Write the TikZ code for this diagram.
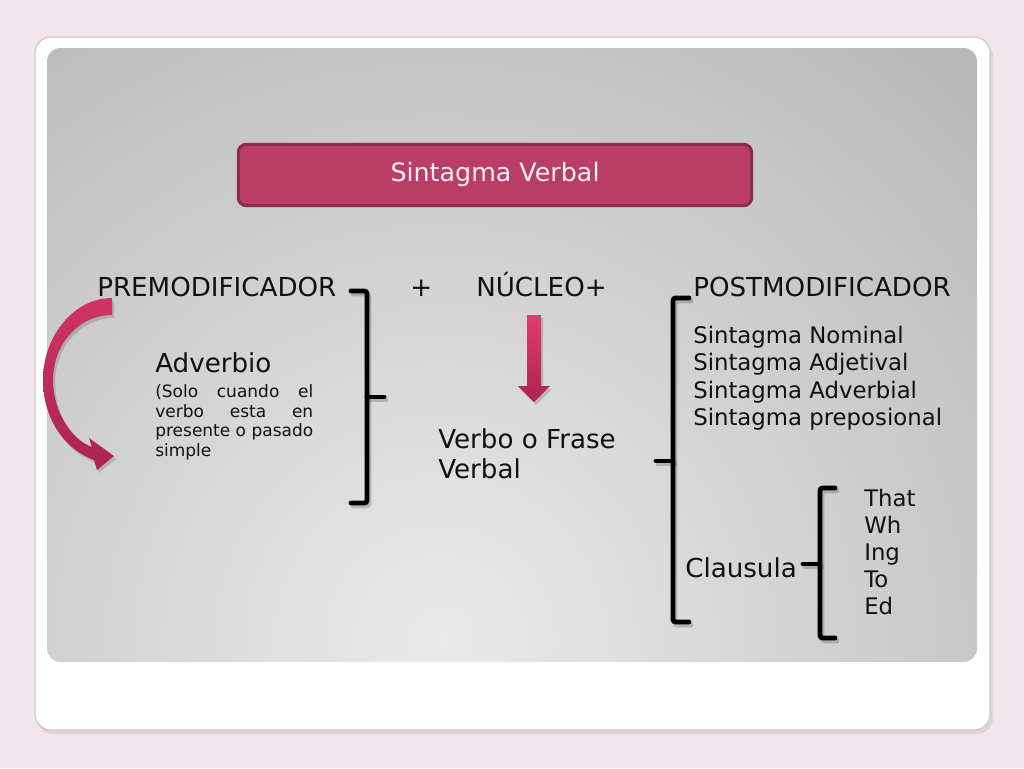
\documentclass[tikz,border=0pt]{standalone}
\usepackage{fontspec}
\setmainfont{DejaVu Sans}
\definecolor{pagebg}{HTML}{F3E5EC}
\definecolor{panelLight}{HTML}{EAEAEA}
\definecolor{panelDark}{HTML}{A6A6A6}
\definecolor{titleFill}{HTML}{BA3D66}
\definecolor{titleEdge}{HTML}{8E2A4C}
\definecolor{titleText}{HTML}{FBEFF3}
\definecolor{arrTop}{HTML}{E63A6D}
\definecolor{arrBot}{HTML}{AC2350}
\definecolor{ink}{HTML}{111111}
\begin{document}
\begin{tikzpicture}[x=0.75pt,y=-0.75pt,
  bigtxt/.style={font=\fontsize{19.6}{23}\selectfont, text=ink, inner sep=0pt, anchor=base west},
  midtxt/.style={font=\fontsize{17.1}{20}\selectfont, text=ink, inner sep=0pt, anchor=base west},
  smalltxt/.style={font=\fontsize{12.75}{15}\selectfont, text=ink, inner sep=0pt, anchor=base west},
  brk/.style={line width=3.6pt, draw=black, rounded corners=2pt, line cap=round},
  brkshadow/.style={line width=3.6pt, draw=black, opacity=0.18, rounded corners=2pt, line cap=round},
  arrshadow/.style={fill=black, opacity=0.15}]
\useasboundingbox (0,0) rectangle (1024,768);
\fill[pagebg] (0,0) rectangle (1024,768);
% card
\fill[black!30, opacity=0.35, rounded corners=12pt] (37,41) rectangle (993,734);
\fill[white, draw=black!22, line width=0.8pt, rounded corners=12pt] (35,37) rectangle (990,730);
% panel
\begin{scope}
  \clip[rounded corners=10pt] (47,48) rectangle (977,662);
  \shade[inner color=panelLight, outer color=panelDark] (440,640) circle (800pt);
\end{scope}
% title
\node[draw=titleEdge, line width=2.3pt, fill=titleFill, rounded corners=6pt,
      minimum width=385pt, minimum height=46pt, inner sep=0pt,
      text=titleText, font=\fontsize{19}{23}\selectfont] (title) at (495,175) {Sintagma Verbal};
% headings
\node[bigtxt] (pre) at (97,296) {PREMODIFICADOR};
\node[bigtxt] (plus) at (410,296) {+};
\node[bigtxt] (nuc) at (476,296) {NÚCLEO+};
\node[bigtxt] (post) at (693,296) {POSTMODIFICADOR};
% left block
\node[bigtxt] (adv) at (155,372) {Adverbio};
\node[smalltxt] (s1) at (155,397) {\makebox[118.5pt][s]{(Solo\hfill cuando\hfill el}};
\node[smalltxt] (s2) at (155,417) {\makebox[118.5pt][s]{verbo\hfill esta\hfill en}};
\node[smalltxt] (s3) at (155,436) {\makebox[118.5pt][s]{presente\hfill o\hfill pasado}};
\node[smalltxt] (s4) at (155,456) {simple};
% centre
\node[bigtxt] (v1) at (438,448) {Verbo o Frase};
\node[bigtxt] (v2) at (438,478) {Verbal};
% right block
\node[midtxt] (sn1) at (693,343) {Sintagma Nominal};
\node[midtxt] (sn2) at (693,370) {Sintagma Adjetival};
\node[midtxt] (sn3) at (693,398) {Sintagma Adverbial};
\node[midtxt] (sn4) at (693,425) {Sintagma preposional};
\node[bigtxt] (cla) at (685,577) {Clausula};
\node[midtxt] (c1) at (864,506) {That};
\node[midtxt] (c2) at (864,533) {Wh};
\node[midtxt] (c3) at (864,560) {Ing};
\node[midtxt] (c4) at (864,587) {To};
\node[midtxt] (c5) at (864,614) {Ed};
% brackets (shadows)
\begin{scope}[shift={(2,3)}]
  \draw[brkshadow] (351,291) -- (367,291) -- (367,503) -- (351,503);
  \draw[brkshadow] (367,397) -- (384,397);
  \draw[brkshadow] (689,298) -- (673,298) -- (673,622) -- (689,622);
  \draw[brkshadow] (656,461) -- (673,461);
  \draw[brkshadow] (835,488) -- (820,488) -- (820,638) -- (835,638);
  \draw[brkshadow] (803,564) -- (820,564);
\end{scope}
% brackets
\draw[brk] (351,291) -- (367,291) -- (367,503) -- (351,503);
\draw[brk] (367,397) -- (384,397);
\draw[brk] (689,298) -- (673,298) -- (673,622) -- (689,622);
\draw[brk] (656,461) -- (673,461);
\draw[brk] (835,488) -- (820,488) -- (820,638) -- (835,638);
\draw[brk] (803,564) -- (820,564);
% down arrow
\fill[arrshadow] (529,318) -- (543,318) -- (543,389) -- (552,389) -- (536,405) -- (520,389) -- (529,389) -- cycle;
\shade[top color=arrTop, bottom color=arrBot] (527,315) -- (541,315) -- (541,386) -- (550,386) -- (534,402) -- (518,386) -- (527,386) -- cycle;
% curved arrow
\begin{scope}[shift={(2,3)}]
\fill[arrshadow] (112,298) .. controls (74,298) and (43,336) .. (43,380)
  .. controls (43,420) and (66,450) .. (94,460) -- (97,470) -- (114,456) -- (89,438) -- (92,447)
  .. controls (72,440) and (53,412) .. (53,380)
  .. controls (53,344) and (79,315) .. (112,315) -- cycle;
\end{scope}
\shade[top color=arrTop!90!black, bottom color=arrBot] (112,298) .. controls (74,298) and (43,336) .. (43,380)
  .. controls (43,420) and (66,450) .. (94,460) -- (97,470) -- (114,456) -- (89,438) -- (92,447)
  .. controls (72,440) and (53,412) .. (53,380)
  .. controls (53,344) and (79,315) .. (112,315) -- cycle;
\end{tikzpicture}
\end{document}
